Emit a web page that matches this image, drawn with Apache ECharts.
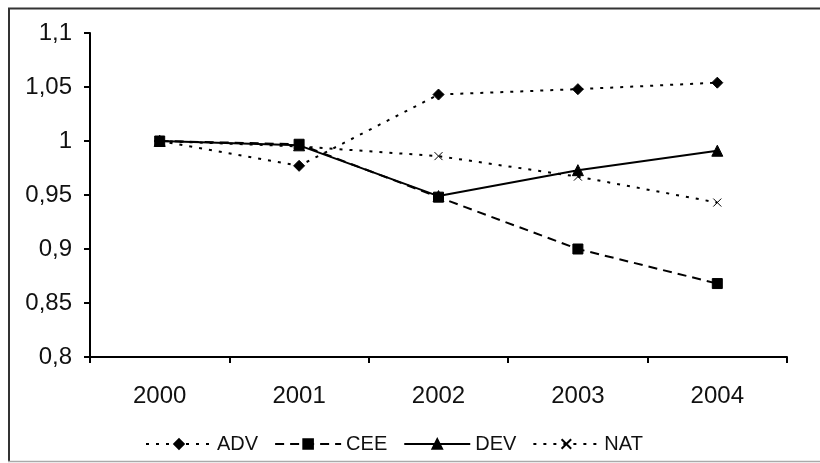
<!DOCTYPE html>
<html><head><meta charset="utf-8">
<script src="https://cdn.jsdelivr.net/npm/echarts@6/dist/echarts.min.js"></script>
<style>html,body{margin:0;padding:0;background:#fff}#c{width:820px;height:463px}</style>
</head><body><div id="c"></div>
<script>
var years = ['2000','2001','2002','2003','2004'];
var adv = [1.0, 0.977, 1.043, 1.048, 1.054];
var cee = [1.0, 0.997, 0.948, 0.900, 0.868];
var dev = [1.0, 0.996, 0.949, 0.973, 0.991];
var nat = [1.0, 0.995, 0.986, 0.967, 0.943];
var seriesNames = ['ADV','CEE','DEV','NAT'];

var chart = echarts.init(document.getElementById('c'), null, {renderer:'canvas'});
var font = 'Liberation Sans, Arial, sans-serif';
function mk(name, data, dash, symbol, size){
  return {name:name, type:'line', data:data, symbol:symbol, symbolSize:size,
    lineStyle:{color:'#000', width:2, type:dash}, itemStyle:{color:'#000', borderColor:'#000', borderWidth:1},
    showSymbol:true, animation:false};
}
chart.setOption({
  animation:false,
  graphic:[
    {type:'line', shape:{x1:8, y1:8.5, x2:820, y2:8.5}, style:{stroke:'#333', lineWidth:2}, silent:true},
    {type:'line', shape:{x1:9, y1:8, x2:9, y2:461}, style:{stroke:'#333', lineWidth:2}, silent:true},
    {type:'line', shape:{x1:8, y1:461.5, x2:820, y2:461.5}, style:{stroke:'#aaa', lineWidth:1.5}, silent:true}
  ],
  grid:{left:90, right:33, top:33, bottom:106},
  xAxis:{type:'category', data:years, boundaryGap:true,
    axisLine:{lineStyle:{color:'#000', width:2}},
    axisTick:{show:true, length:6, lineStyle:{color:'#000', width:2}},
    axisLabel:{color:'#111', fontFamily:font, fontSize:24, margin:27}},
  yAxis:{type:'value', min:0.8, max:1.1, interval:0.05,
    splitLine:{show:false},
    axisLine:{show:true, lineStyle:{color:'#000', width:2}},
    axisTick:{show:true, length:6, lineStyle:{color:'#000', width:2}},
    axisLabel:{color:'#111', fontFamily:font, fontSize:24, margin:18,
      formatter:function(v){return String(Math.round(v*100)/100).replace('.',',');}}},
  legend:{top:429, left:140, itemWidth:66, itemHeight:12, itemGap:16,
    textStyle:{color:'#111', fontFamily:font, fontSize:20},
    data:seriesNames},
  series:[
    mk(seriesNames[0], adv, [3,7], 'diamond', 11),
    mk(seriesNames[1], cee, [9,6], 'rect', 10),
    mk(seriesNames[2], dev, 'solid', 'triangle', 11),
    mk(seriesNames[3], nat, [3,7], 'path://M0,0 L10,10 M10,0 L0,10', 8)
  ]
});
</script></body></html>
